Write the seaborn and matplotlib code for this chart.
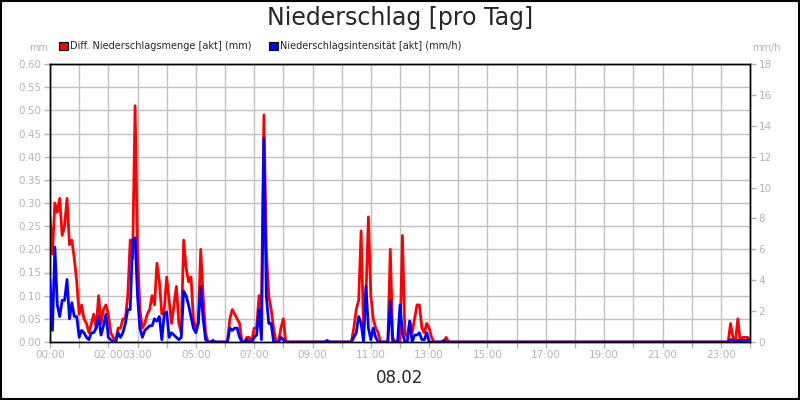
import matplotlib
matplotlib.use("Agg")
import matplotlib.pyplot as plt
import seaborn as sns
import pandas as pd

# Diff. Niederschlagsmenge (mm): (minute of day, value)
red = [(0,.27),(5,.19),(10,.30),(15,.28),(20,.31),(25,.23),(30,.25),(35,.31),(40,.21),(45,.22),
       (50,.18),(55,.13),(60,.06),(65,.08),(70,.05),(75,.04),(80,.02),(85,.04),(90,.06),(95,.03),
       (100,.10),(105,.04),(110,.07),(115,.08),(120,.06),(125,.02),(130,.01),(135,0),(140,.03),(145,.03),
       (150,.05),(155,.05),(160,.10),(165,.22),(170,.18),(175,.51),(180,.20),(185,.07),(190,.03),(195,.04),
       (200,.06),(205,.07),(210,.10),(215,.08),(220,.17),(225,.13),(230,.06),(235,.07),(240,.14),(245,.09),
       (250,.04),(255,.08),(260,.12),(265,.04),(270,.02),(275,.22),(280,.16),(285,.13),(290,.14),(295,.05),
       (300,.03),(305,.04),(310,.20),(315,.10),(320,.02),(325,0),(365,0),(370,.05),(375,.07),(380,.06),
       (385,.05),(390,.04),(395,0),(400,0),(405,.01),(410,.01),(415,0),(420,.03),(425,.03),(430,.10),
       (435,.07),(440,.49),(445,.20),(450,.10),(455,.07),(460,.03),(465,0),(470,0),(475,.03),(480,.05),
       (485,0),(620,0),(625,.03),(630,.07),(635,.09),(640,.24),(645,.03),(650,.10),(655,.27),(660,.10),
       (665,.05),(670,.03),(675,.02),(680,0),(695,0),(700,.20),(705,.01),(710,0),(720,0),(725,.23),
       (730,.02),(735,.01),(740,.045),(745,.02),(750,.05),(755,.08),(760,.08),(765,.03),(770,.02),(775,.04),
       (780,.03),(785,.01),(790,0),(810,0),(815,.01),(820,0),(1395,0),(1400,.04),(1405,.01),(1410,0),
       (1415,.05),(1420,0),(1425,.01),(1435,.01),(1439,.005)]

# Niederschlagsintensität (mm/h): (minute of day, value)
blue = [(0,4.05),(5,.75),(10,6.15),(15,2.4),(20,1.65),(25,2.7),(30,2.7),(35,4.05),(40,1.5),(45,2.55),
        (50,1.65),(55,1.65),(60,.3),(65,.75),(70,.6),(75,.3),(80,.15),(85,.6),(90,.6),(95,.9),
        (100,1.65),(105,.45),(110,1.05),(115,1.8),(120,.3),(125,.15),(130,0),(135,0),(140,.6),(145,.3),
        (150,.6),(155,1.2),(160,2.1),(165,2.1),(170,6.6),(175,6.75),(180,3.0),(185,.9),(190,.3),(195,.75),
        (200,.9),(205,1.05),(210,1.05),(215,1.5),(220,1.35),(225,1.65),(230,.15),(235,1.8),(240,1.95),(245,.3),
        (250,.6),(255,.45),(260,.3),(265,.15),(270,.3),(275,3.3),(280,3.0),(285,2.4),(290,1.65),(295,.9),
        (300,.6),(305,1.2),(310,3.6),(315,1.5),(320,.15),(325,0),(330,0),(335,.1),(340,0),(365,0),
        (370,.9),(375,.75),(380,.9),(385,.9),(390,.3),(395,0),(400,0),(405,.15),(410,0),(415,0),
        (420,.3),(425,.45),(430,2.1),(435,.15),(440,13.2),(445,3.0),(450,1.2),(455,1.2),(460,0),(470,0),
        (475,.3),(480,.15),(485,0),(565,0),(570,.1),(575,0),(620,0),(625,.3),(630,.6),(635,1.65),
        (640,1.2),(645,0),(650,3.6),(655,.9),(660,.15),(665,.9),(670,.3),(675,0),(695,0),(700,2.7),
        (705,0),(715,0),(720,2.4),(725,.6),(730,0),(735,0),(740,1.35),(745,0),(750,.45),(755,.45),
        (760,.6),(765,.15),(770,.15),(775,.6),(780,0),(805,0),(810,.1),(815,0),(1395,0),(1400,.15),
        (1405,.1),(1410,0),(1415,.1),(1425,.1),(1435,.1),(1439,.15)]

red_t = [t / 60 for t, _ in red]
red_v = [v for _, v in red]
blue_t = [t / 60 for t, _ in blue]
blue_v = [v for _, v in blue]

tick_hours = [0, 2, 3, 5, 7, 9, 11, 13, 15, 17, 19, 21, 23]
tick_labels = ["%02d:00" % h for h in tick_hours]

sns.set_style("white")
fig = plt.figure(figsize=(8, 4), dpi=100)
ax = fig.add_axes([0.0625, 0.145, 0.875, 0.695])
ax2 = ax.twinx()

sns.lineplot(x=red_t, y=red_v, ax=ax, color="#ff0000", lw=2, zorder=3)
sns.lineplot(x=blue_t, y=blue_v, ax=ax2, color="#0000ff", lw=2, zorder=4)

gray = "#b4b4b4"
ax.set_xlim(0, 24)
ax.set_ylim(0, 0.6)
ax2.set_ylim(0, 18)
ax.set_yticks([i * 0.05 for i in range(13)])
ax.set_yticklabels(["%.2f" % (i * 0.05) for i in range(13)])
ax2.set_yticks(range(0, 19, 2))
ax.set_xticks(range(25), minor=False)
ax.set_xticklabels([("%02d:00" % h if h in tick_hours else "") for h in range(25)])
ax.grid(True, color="#c0c0c0", lw=1)
ax2.grid(False)
for a in (ax, ax2):
    a.tick_params(colors=gray, labelsize=7.5, length=4, width=1, pad=2)
    a.tick_params(axis="x", length=4)
    for s in a.spines.values():
        s.set_color("black")
        s.set_linewidth(1)
ax.tick_params(axis="both", left=True, bottom=True)
ax2.tick_params(axis="y", right=True)
ax.set_zorder(ax2.get_zorder() - 1)
ax2.patch.set_visible(False)
ax.set_xlabel(""); ax.set_ylabel(""); ax2.set_ylabel("")

fig.text(0.5, 0.955, "Niederschlag [pro Tag]", ha="center", va="center", fontsize=17)
fig.text(0.5, 0.055, "08.02", ha="center", va="center", fontsize=12)
fig.text(0.048, 0.88, "mm", ha="center", va="center", fontsize=7, color=gray)
fig.text(0.958, 0.88, "mm/h", ha="center", va="center", fontsize=7, color=gray)

fig.patches.append(plt.Rectangle((0.074, 0.874), 0.011, 0.022, transform=fig.transFigure,
                                 facecolor="#ff0000", edgecolor="black", lw=0.8))
fig.text(0.088, 0.885, "Diff. Niederschlagsmenge [akt] (mm)", va="center", fontsize=7)
fig.patches.append(plt.Rectangle((0.336, 0.874), 0.011, 0.022, transform=fig.transFigure,
                                 facecolor="#0000ff", edgecolor="black", lw=0.8))
fig.text(0.35, 0.885, "Niederschlagsintensität [akt] (mm/h)", va="center", fontsize=7)

fig.patches.append(plt.Rectangle((0.001, 0.002), 0.998, 0.996, transform=fig.transFigure,
                                 facecolor="none", edgecolor="black", lw=1.5))
fig.savefig("out.png", dpi=100)
